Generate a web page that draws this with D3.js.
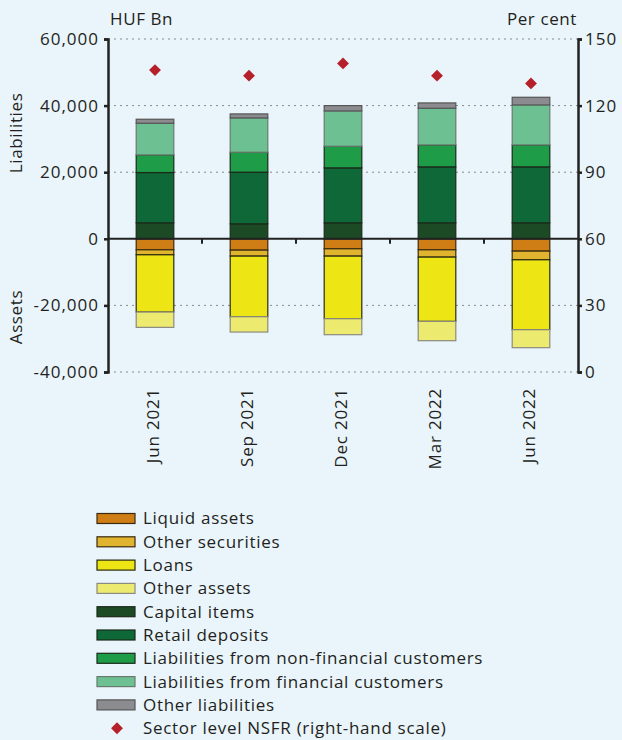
<!DOCTYPE html>
<html>
<head>
<meta charset="utf-8">
<script src="https://cdn.jsdelivr.net/npm/d3@7"></script>
<style>
  body { margin: 0; background: #e9f4fb; }
  svg { display: block; font-family: "Open Sans", sans-serif; }
</style>
</head>
<body>
<svg id="chart" width="622" height="740"></svg>
<script>
// chart values (HUF Bn, NSFR in per cent)
var periods = ["Jun 2021", "Sep 2021", "Dec 2021", "Mar 2022", "Jun 2022"];

// assets (plotted below zero)
var liquidAssets    = [3300, 3400, 3000, 3300, 3700];
var otherSecurities = [1500, 1800, 2200, 2200, 2600];
var loans           = [17200, 18200, 18800, 19300, 21000];
var otherAssets     = [4600, 4600, 4800, 5800, 5400];

// liabilities (plotted above zero)
var capitalItems    = [4800, 4500, 4800, 4800, 4800];
var retailDeposits  = [15100, 15500, 16500, 16800, 16800];
var nonFinancial    = [5300, 6000, 6500, 6600, 6600];
var financial       = [9500, 10300, 10600, 11000, 12000];
var otherLiab       = [1200, 1200, 1600, 1600, 2300];

var nsfr = [136, 133.5, 139, 133.5, 130];

var leftTicks = [-40000, -20000, 0, 20000, 40000, 60000];
var rightTicks = [0, 30, 60, 90, 120, 150];

var series = [
  {name: "Liquid assets", values: liquidAssets, side: -1, fill: "#cf7d15", stroke: "#3a2a10"},
  {name: "Other securities", values: otherSecurities, side: -1, fill: "#e0b42e", stroke: "#3a2a10"},
  {name: "Loans", values: loans, side: -1, fill: "#ede614", stroke: "#2a2a10"},
  {name: "Other assets", values: otherAssets, side: -1, fill: "#ecea6f", stroke: "#8a8a80"},
  {name: "Capital items", values: capitalItems, side: 1, fill: "#1c4a25", stroke: "#1a2a1a"},
  {name: "Retail deposits", values: retailDeposits, side: 1, fill: "#0e6837", stroke: "#1a2a1a"},
  {name: "Liabilities from non-financial customers", values: nonFinancial, side: 1, fill: "#1f9c48", stroke: "#1a2a1a"},
  {name: "Liabilities from financial customers", values: financial, side: 1, fill: "#6cc091", stroke: "#6a7a70"},
  {name: "Other liabilities", values: otherLiab, side: 1, fill: "#8c8c90", stroke: "#555"}
];

var margin = {top: 39, left: 108, right: 44};
var width = 622, plotBottom = 372;
var textColor = "#231f20";

var svg = d3.select("#chart");
var chart = svg.append("g");

var x = d3.scaleBand()
  .domain(periods)
  .range([margin.left, width - margin.right])
  .paddingInner(0.6)
  .paddingOuter(0.3);

var y = d3.scaleLinear()
  .domain([-40000, 60000])
  .range([plotBottom, margin.top]);

var y2 = d3.scaleLinear()
  .domain([0, 150])
  .range([plotBottom, margin.top]);

// dotted gridlines
chart.append("g")
  .selectAll("line")
  .data(leftTicks.filter(function(d) { return d !== 0; }))
  .enter().append("line")
  .attr("x1", margin.left)
  .attr("x2", width - margin.right)
  .attr("y1", function(d) { return y(d); })
  .attr("y2", function(d) { return y(d); })
  .attr("stroke", "#8a8a8a")
  .attr("stroke-width", 1)
  .attr("stroke-dasharray", "2,4");

// stack the bars, assets downward and liabilities upward
var stacked = [];
periods.forEach(function(p, i) {
  var up = 0, down = 0;
  series.forEach(function(s) {
    var v = s.values[i];
    if (s.side > 0) {
      stacked.push({period: p, s: s, y0: up, y1: up + v});
      up += v;
    } else {
      stacked.push({period: p, s: s, y0: down, y1: down - v});
      down -= v;
    }
  });
});

chart.append("g")
  .selectAll("rect")
  .data(stacked)
  .enter().append("rect")
  .attr("x", function(d) { return x(d.period); })
  .attr("width", x.bandwidth())
  .attr("y", function(d) { return y(Math.max(d.y0, d.y1)); })
  .attr("height", function(d) { return Math.abs(y(d.y0) - y(d.y1)); })
  .attr("fill", function(d) { return d.s.fill; })
  .attr("stroke", function(d) { return d.s.stroke; })
  .attr("stroke-width", 1.2);

// zero line with category separators
chart.append("line")
  .attr("x1", margin.left)
  .attr("x2", width - margin.right)
  .attr("y1", y(0))
  .attr("y2", y(0))
  .attr("stroke", "#222")
  .attr("stroke-width", 2);

var step = x.step();
chart.append("g")
  .selectAll("line")
  .data(periods.slice(1))
  .enter().append("line")
  .attr("x1", function(d) { return x(d) - (step - x.bandwidth()) / 2; })
  .attr("x2", function(d) { return x(d) - (step - x.bandwidth()) / 2; })
  .attr("y1", y(0))
  .attr("y2", y(0) + 5)
  .attr("stroke", "#222")
  .attr("stroke-width", 2);

// NSFR diamonds
chart.append("g")
  .selectAll("path")
  .data(nsfr)
  .enter().append("path")
  .attr("d", d3.symbol().type(d3.symbolDiamond2).size(90))
  .attr("transform", function(d, i) {
    return "translate(" + (x(periods[i]) + x.bandwidth() / 2) + "," + y2(d) + ")";
  })
  .attr("fill", "#b5202a");

// axes
var fmt = d3.format(",");
var yAxis = d3.axisLeft(y)
  .tickValues(leftTicks)
  .tickSize(4)
  .tickFormat(function(d) { return fmt(d).replace("\u2212", "-"); });

var yAxisR = d3.axisRight(y2)
  .tickValues(rightTicks)
  .tickSize(4);

var gl = chart.append("g")
  .attr("transform", "translate(" + margin.left + ",0)")
  .call(yAxis);

var gr = chart.append("g")
  .attr("transform", "translate(" + (width - margin.right) + ",0)")
  .call(yAxisR);

[gl, gr].forEach(function(g) {
  g.select(".domain").attr("stroke", "#222").attr("stroke-width", 2.5);
  g.selectAll(".tick line").attr("stroke", "#222").attr("stroke-width", 2.5);
  g.selectAll("text")
    .attr("font-family", "Open Sans")
    .attr("font-size", 17)
    .attr("letter-spacing", 1)
    .attr("fill", textColor);
});
gl.selectAll(".tick text").attr("x", -9);
gr.selectAll(".tick text").attr("x", 7);

// x labels, rotated
chart.append("g")
  .selectAll("text")
  .data(periods)
  .enter().append("text")
  .attr("transform", function(d) {
    return "translate(" + (x(d) + x.bandwidth() / 2 - 2) + "," + (plotBottom + 16) + ") rotate(-90)";
  })
  .attr("dy", "0.35em")
  .style("text-anchor", "end")
  .style("font-size", "17px")
  .style("letter-spacing", "0.8px")
  .attr("fill", textColor)
  .text(function(d) { return d; });

// axis titles
chart.append("text")
  .attr("x", 110)
  .attr("y", 25)
  .style("font-size", "17px")
  .style("letter-spacing", "0.6px")
  .attr("fill", textColor)
  .text("HUF Bn");

chart.append("text")
  .attr("x", 577)
  .attr("y", 25)
  .style("text-anchor", "end")
  .style("font-size", "17px")
  .style("letter-spacing", "0.6px")
  .attr("fill", textColor)
  .text("Per cent");

chart.append("text")
  .attr("transform", "translate(22," + y(31800) + ") rotate(-90)")
  .style("text-anchor", "middle")
  .style("font-size", "17px")
  .style("letter-spacing", "0.6px")
  .attr("fill", textColor)
  .text("Liabilities");

chart.append("text")
  .attr("transform", "translate(22," + y(-23500) + ") rotate(-90)")
  .style("text-anchor", "middle")
  .style("font-size", "17px")
  .style("letter-spacing", "0.6px")
  .attr("fill", textColor)
  .text("Assets");

// legend
var legendItems = series.map(function(s) { return {name: s.name, fill: s.fill, stroke: s.stroke, diamond: false}; });
legendItems.push({name: "Sector level NSFR (right-hand scale)", fill: "#b5202a", diamond: true});

var legend = chart.append("g")
  .attr("transform", "translate(97,518.5)");

var rowH = 23.3;
var item = legend.selectAll("g")
  .data(legendItems)
  .enter().append("g")
  .attr("transform", function(d, i) { return "translate(0," + (i * rowH) + ")"; });

item.filter(function(d) { return !d.diamond; })
  .append("rect")
  .attr("x", 0)
  .attr("y", -5)
  .attr("width", 38)
  .attr("height", 10)
  .attr("fill", function(d) { return d.fill; })
  .attr("stroke", function(d) { return d.stroke; })
  .attr("stroke-width", 1.2);

item.filter(function(d) { return d.diamond; })
  .append("path")
  .attr("d", d3.symbol().type(d3.symbolDiamond2).size(90))
  .attr("transform", "translate(20,0)")
  .attr("fill", function(d) { return d.fill; });

item.append("text")
  .attr("x", 46)
  .attr("dy", "0.35em")
  .style("font-size", "17px")
  .style("letter-spacing", "0.7px")
  .attr("fill", textColor)
  .text(function(d) { return d.name; });
</script>
</body>
</html>
